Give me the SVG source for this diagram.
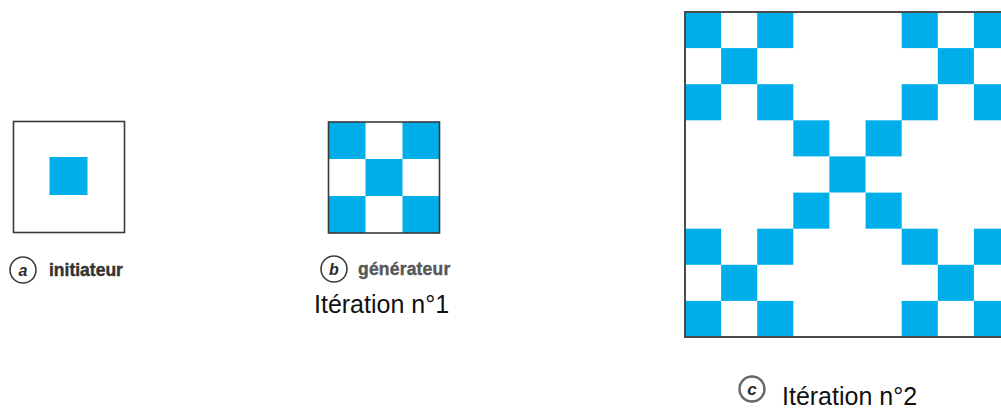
<svg xmlns="http://www.w3.org/2000/svg" width="1001" height="412" viewBox="0 0 1001 412">
<style>
.bg{fill:#ffffff}
.cell{fill:#00aeea}
.frame{fill:none;stroke:#3a3a3a;stroke-width:1.6}
.lbl{font-family:"Liberation Sans",Arial,sans-serif;font-weight:bold;font-size:17.5px;fill:#333333;stroke:#333333;stroke-width:0.4}
.ring{fill:#ffffff;stroke:#3c3c3c;stroke-width:1.6}
.letter{font-family:"Liberation Sans",Arial,sans-serif;font-weight:bold;font-style:italic;font-size:16px;fill:#2a2a2a;text-anchor:middle}
.title{font-family:"Liberation Sans",Arial,sans-serif;font-size:25px;fill:#111111}
</style>
<rect class="bg" x="0" y="0" width="1001" height="412"/>

<g id="initiateur">
  <rect class="bg" x="13.5" y="121.5" width="111" height="111"/>
  <rect class="cell" x="49.5" y="157" width="38" height="38"/>
  <rect class="frame" x="13.5" y="121.5" width="111" height="111"/>
  <circle class="ring" cx="23" cy="270" r="13"/>
  <text class="letter" x="23" y="275.5">a</text>
  <text class="lbl" x="49" y="276">initiateur</text>
</g>

<g id="generateur">
  <rect class="bg" x="328.5" y="122" width="111" height="111"/>
  <rect class="cell" x="328.5" y="122" width="37" height="37"/>
  <rect class="cell" x="402.5" y="122" width="37" height="37"/>
  <rect class="cell" x="365.5" y="159" width="37" height="37"/>
  <rect class="cell" x="328.5" y="196" width="37" height="37"/>
  <rect class="cell" x="402.5" y="196" width="37" height="37"/>
  <rect class="frame" x="328.5" y="122" width="111" height="111"/>
  <circle class="ring" cx="334" cy="269" r="13"/>
  <text class="letter" x="334" y="274.5">b</text>
  <text class="lbl" x="358" y="275" style="fill:#585858;stroke:#585858" letter-spacing="0.2">générateur</text>
  <text class="title" x="314" y="313">Itération n°1</text>
</g>

<g id="iteration2">
  <rect class="bg" x="685" y="12" width="330" height="325"/>
  <!-- block (0,0) -->
  <rect class="cell" x="685" y="12" width="36.1" height="36.1"/>
  <rect class="cell" x="757.2" y="12" width="36.1" height="36.1"/>
  <rect class="cell" x="721.1" y="48.1" width="36.1" height="36.1"/>
  <rect class="cell" x="685" y="84.2" width="36.1" height="36.1"/>
  <rect class="cell" x="757.2" y="84.2" width="36.1" height="36.1"/>
  <!-- block (0,2) -->
  <rect class="cell" x="901.7" y="12" width="36.1" height="36.1"/>
  <rect class="cell" x="973.9" y="12" width="36.1" height="36.1"/>
  <rect class="cell" x="937.8" y="48.1" width="36.1" height="36.1"/>
  <rect class="cell" x="901.7" y="84.2" width="36.1" height="36.1"/>
  <rect class="cell" x="973.9" y="84.2" width="36.1" height="36.1"/>
  <!-- block (1,1) -->
  <rect class="cell" x="793.3" y="120.3" width="36.1" height="36.1"/>
  <rect class="cell" x="865.6" y="120.3" width="36.1" height="36.1"/>
  <rect class="cell" x="829.4" y="156.4" width="36.1" height="36.1"/>
  <rect class="cell" x="793.3" y="192.6" width="36.1" height="36.1"/>
  <rect class="cell" x="865.6" y="192.6" width="36.1" height="36.1"/>
  <!-- block (2,0) -->
  <rect class="cell" x="685" y="228.7" width="36.1" height="36.1"/>
  <rect class="cell" x="757.2" y="228.7" width="36.1" height="36.1"/>
  <rect class="cell" x="721.1" y="264.8" width="36.1" height="36.1"/>
  <rect class="cell" x="685" y="300.9" width="36.1" height="36.1"/>
  <rect class="cell" x="757.2" y="300.9" width="36.1" height="36.1"/>
  <!-- block (2,2) -->
  <rect class="cell" x="901.7" y="228.7" width="36.1" height="36.1"/>
  <rect class="cell" x="973.9" y="228.7" width="36.1" height="36.1"/>
  <rect class="cell" x="937.8" y="264.8" width="36.1" height="36.1"/>
  <rect class="cell" x="901.7" y="300.9" width="36.1" height="36.1"/>
  <rect class="cell" x="973.9" y="300.9" width="36.1" height="36.1"/>
  <rect class="frame" x="685" y="12" width="330" height="325" style="stroke:#4a4a4a;stroke-width:2"/>
  <circle class="ring" cx="752" cy="389" r="12.5" style="stroke:#666666;stroke-width:2.4"/>
  <text class="letter" x="752" y="394.5" style="font-size:17px">c</text>
  <text class="title" x="782" y="405">Itération n°2</text>
</g>
</svg>
